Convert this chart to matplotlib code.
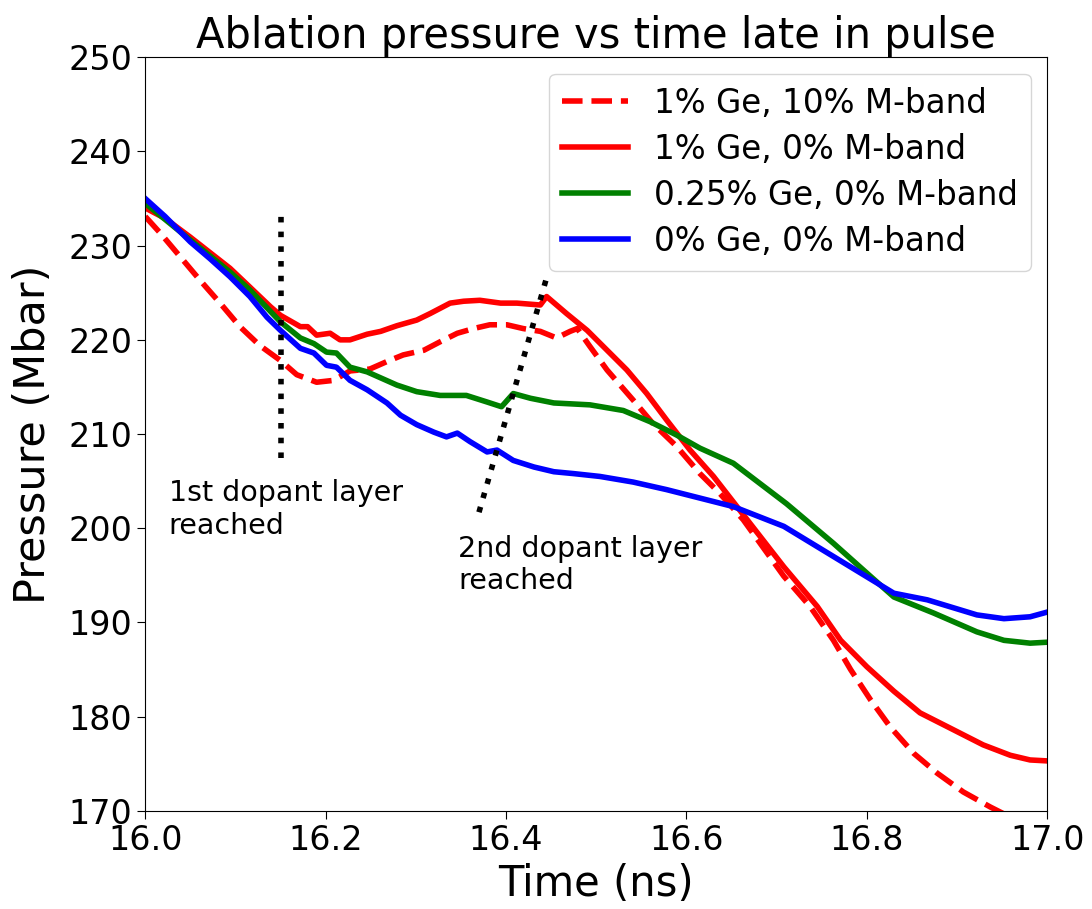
import matplotlib
matplotlib.use('Agg')
import matplotlib.pyplot as plt

# 1% Ge, 10% M-band
t_ge1_m10 = [16.0, 16.017, 16.039, 16.061, 16.083, 16.105, 16.127, 16.150, 16.168, 16.190,
             16.209, 16.227, 16.249, 16.268, 16.286, 16.309, 16.327, 16.346, 16.364, 16.382,
             16.401, 16.419, 16.438, 16.456, 16.471, 16.479, 16.493, 16.512, 16.541, 16.563,
             16.589, 16.615, 16.637, 16.663, 16.708, 16.737, 16.763, 16.782, 16.804, 16.826,
             16.852, 16.878, 16.907, 16.937, 16.97, 17.0]
p_ge1_m10 = [233.1, 231.3, 228.8, 226.3, 223.9, 221.4, 219.4, 217.8, 216.3, 215.5,
             215.7, 216.7, 216.9, 217.7, 218.4, 218.9, 219.8, 220.7, 221.2, 221.6,
             221.6, 221.2, 220.9, 220.2, 220.9, 221.2, 219.3, 216.8, 213.6, 211.1,
             208.7, 205.8, 203.7, 200.9, 194.9, 191.7, 188.1, 185.0, 181.8, 178.9,
             176.1, 174.0, 172.0, 170.4, 168.8, 167.5]

# 1% Ge, 0% M-band
t_ge1 = [16.0, 16.022, 16.050, 16.094, 16.116, 16.139, 16.150, 16.172, 16.180, 16.190,
         16.205, 16.216, 16.227, 16.246, 16.261, 16.279, 16.301, 16.316, 16.338, 16.353,
         16.371, 16.394, 16.412, 16.438, 16.445, 16.467, 16.490, 16.512, 16.534, 16.556,
         16.578, 16.604, 16.630, 16.656, 16.708, 16.745, 16.771, 16.800, 16.830, 16.859,
         16.892, 16.929, 16.959, 16.981, 17.0]
p_ge1 = [234.0, 232.9, 230.9, 227.6, 225.6, 223.5, 222.6, 221.4, 221.4, 220.5,
         220.7, 220.0, 220.0, 220.6, 220.9, 221.5, 222.1, 222.8, 223.9, 224.1,
         224.2, 223.9, 223.9, 223.7, 224.6, 222.8, 221.0, 218.9, 216.8, 214.3,
         211.5, 208.3, 205.5, 202.3, 195.9, 191.7, 188.1, 185.3, 182.7, 180.4,
         178.8, 177.0, 175.9, 175.4, 175.3]

# 0.25% Ge, 0% M-band
t_ge025 = [16.0, 16.050, 16.094, 16.116, 16.150, 16.172, 16.187, 16.201, 16.212, 16.227,
           16.246, 16.279, 16.301, 16.327, 16.356, 16.379, 16.395, 16.408, 16.427, 16.453,
           16.493, 16.530, 16.560, 16.589, 16.615, 16.652, 16.711, 16.763, 16.804, 16.830,
           16.874, 16.922, 16.952, 16.981, 17.0]
p_ge025 = [234.5, 230.6, 227.2, 225.3, 221.9, 220.2, 219.6, 218.7, 218.6, 217.1,
           216.6, 215.2, 214.5, 214.1, 214.1, 213.4, 212.9, 214.3, 213.8, 213.3,
           213.1, 212.5, 211.3, 209.9, 208.5, 206.9, 202.6, 198.4, 194.9, 192.7,
           191.0, 189.0, 188.1, 187.8, 187.9]

# 0% Ge, 0% M-band
t_ge0 = [16.0, 16.022, 16.050, 16.072, 16.094, 16.116, 16.135, 16.150, 16.172, 16.187,
         16.201, 16.212, 16.227, 16.246, 16.268, 16.283, 16.301, 16.320, 16.334, 16.346,
         16.360, 16.379, 16.390, 16.408, 16.431, 16.453, 16.475, 16.504, 16.541, 16.578,
         16.615, 16.652, 16.708, 16.763, 16.830, 16.867, 16.922, 16.952, 16.981, 17.0]
p_ge0 = [235.0, 233.1, 230.4, 228.6, 226.7, 224.6, 222.4, 221.0, 219.1, 218.6,
         217.3, 217.1, 215.7, 214.7, 213.3, 212.0, 211.0, 210.2, 209.7, 210.1,
         209.2, 208.1, 208.3, 207.2, 206.5, 206.0, 205.8, 205.5, 204.9, 204.1,
         203.2, 202.3, 200.2, 197.0, 193.1, 192.4, 190.8, 190.4, 190.6, 191.1]

# dopant layer markers
layer1_t = [16.15, 16.15]
layer1_p = [207.5, 233.4]
layer2_t = [16.37, 16.445]
layer2_p = [201.7, 226.6]

fig = plt.figure(figsize=(10.92, 9.09), dpi=100)
ax = fig.add_axes([0.133, 0.108, 0.826, 0.829])

lw = 4
ax.plot(t_ge1_m10, p_ge1_m10, color='red', linestyle='--', lw=lw, label='1% Ge, 10% M-band')
ax.plot(t_ge1, p_ge1, color='red', lw=lw, label='1% Ge, 0% M-band')
ax.plot(t_ge025, p_ge025, color='green', lw=lw, label='0.25% Ge, 0% M-band')
ax.plot(t_ge0, p_ge0, color='blue', lw=lw, label='0% Ge, 0% M-band')

ax.plot(layer1_t, layer1_p, color='black', linestyle=':', lw=4)
ax.plot(layer2_t, layer2_p, color='black', linestyle=':', lw=4)

ax.text(16.026, 205.2, '1st dopant layer\nreached', fontsize=20.5, va='top', ha='left')
ax.text(16.347, 199.3, '2nd dopant layer\nreached', fontsize=20.5, va='top', ha='left')

ax.set_xlim(16.0, 17.0)
ax.set_ylim(170, 250)
ax.set_xticks([16.0, 16.2, 16.4, 16.6, 16.8, 17.0])
ax.tick_params(labelsize=24, length=6)
ax.set_xlabel('Time (ns)', fontsize=30)
ax.set_ylabel('Pressure (Mbar)', fontsize=31, labelpad=10)
ax.set_title('Ablation pressure vs time late in pulse', fontsize=30)
ax.legend(loc='upper right', fontsize=23.5, labelspacing=0.4)

fig.savefig('out.png', dpi=100)
